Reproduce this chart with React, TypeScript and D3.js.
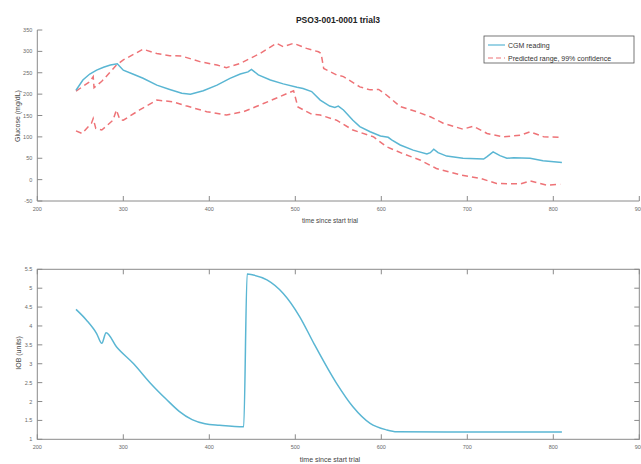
import React from "react";
import * as d3 from "d3";

const cgmT = [245, 253, 261, 269, 277, 285, 293, 300, 311, 323, 339, 354, 368, 378, 393, 409, 424, 436, 445, 449, 457, 471, 486, 502, 509, 519, 529, 540, 546, 550, 556, 567, 575, 587, 599, 608, 612, 622, 637, 653, 657, 661, 666, 676, 695, 719, 723, 730, 738, 746, 754, 773, 788, 810];
const cgmV = [209, 233, 247, 256, 263, 268, 271, 256, 247, 237, 221, 211, 202, 200, 208, 221, 237, 247, 252, 258, 245, 233, 224, 216, 213, 206, 186, 172, 169, 172, 163, 139, 124, 112, 102, 99, 93, 81, 69, 60, 63, 71, 63, 55, 50, 48, 54, 65, 56, 50, 51, 50, 44, 40];

const upT = [245, 253, 261, 265, 266, 275, 284, 292, 300, 312, 323, 339, 354, 368, 389, 409, 420, 436, 459, 478, 486, 498, 513, 527, 530, 533, 548, 556, 575, 587, 597, 606, 622, 641, 657, 672, 695, 707, 723, 742, 762, 773, 789, 808];
const upV = [207, 218, 229, 241, 215, 230, 250, 268, 280, 293, 305, 295, 290, 289, 276, 268, 262, 272, 295, 319, 311, 319, 307, 299, 295, 260, 245, 241, 217, 210, 211, 198, 171, 159, 147, 132, 118, 125, 108, 100, 104, 112, 100, 99];

const loT = [245, 252, 263, 265, 268, 275, 288, 292, 296, 300, 319, 339, 358, 374, 397, 420, 440, 463, 482, 498, 503, 519, 529, 548, 567, 591, 606, 626, 645, 664, 692, 715, 734, 762, 773, 792, 808];
const loV = [114, 108, 132, 143, 120, 116, 139, 163, 140, 139, 163, 186, 182, 172, 159, 151, 159, 178, 194, 208, 170, 153, 151, 139, 116, 100, 77, 60, 46, 26, 11, 3, -9, -10, -3, -13, -11];

const iobT = [245, 257, 269, 275, 280, 292, 312, 331, 350, 365, 380, 395, 412, 440, 444, 451, 467, 486, 505, 522, 548, 567, 587, 606, 618, 700, 810];
const iobV = [4.44, 4.16, 3.8, 3.54, 3.82, 3.45, 3.0, 2.5, 2.06, 1.74, 1.52, 1.41, 1.37, 1.33, 5.375, 5.35, 5.22, 4.86, 4.25, 3.52, 2.48, 1.86, 1.42, 1.25, 1.2, 1.19, 1.19];

const xTicks = [200, 300, 400, 500, 600, 700, 800, 900];
const gTicks = [-50, 0, 50, 100, 150, 200, 250, 300, 350];
const iTicks = [1, 1.5, 2, 2.5, 3, 3.5, 4, 4.5, 5, 5.5];

const titleText = "PSO3-001-0001 trial3";
const xLabel = "time since start trial";
const gLabel = "Glucose (mg/dL)";
const iLabel = "IOB (units)";
const legendLabels = ["CGM reading", "Predicted range, 99% confidence"];

const CYAN = "#5ab6d3";
const RED = "#ee7377";
const AX = "#8a8a8a";
const TXT = "#6a6a6a";
const FONT = "'Liberation Sans', Arial, sans-serif";

export default function App() {
  const L = 37.3, R = 639.3;
  const x = d3.scaleLinear().domain([200, 900]).range([L, R]);
  const yG = d3.scaleLinear().domain([-50, 350]).range([201, 30]);
  const yI = d3.scaleLinear().domain([1, 5.5]).range([439.3, 269.3]);

  const pts = (t: number[], v: number[]) => t.map((d, i) => [d, v[i]] as [number, number]);
  const lineG = d3.line<[number, number]>().x((d) => x(d[0])).y((d) => yG(d[1]));
  const lineI = d3.line<[number, number]>().x((d) => x(d[0])).y((d) => yI(d[1])).curve(d3.curveMonotoneX);

  const tl = 5;
  return (
    <svg width={641} height={464} style={{ position: "absolute", left: 0, top: 0, background: "#fff" }} fontFamily={FONT}>
      <rect x={0} y={0} width={641} height={464} fill="#fff" />
      <text x={338} y={23} textAnchor="middle" fontSize={8.5} fontWeight="bold" fill="#222">{titleText}</text>

      <line x1={L} x2={R} y1={yG(-50)} y2={yG(-50)} stroke={AX} strokeWidth={1} />
      <line x1={L} x2={L} y1={yG(-50)} y2={yG(350)} stroke={AX} strokeWidth={1} />
      {xTicks.map((t) => (
        <g key={"gx" + t}>
          <line x1={x(t)} x2={x(t)} y1={yG(-50)} y2={yG(-50) - tl} stroke={AX} />
          <text x={x(t)} y={yG(-50) + 10} textAnchor="middle" fontSize={5.5} fill={TXT}>{t}</text>
        </g>
      ))}
      {gTicks.map((v) => (
        <g key={"gy" + v}>
          <line x1={L} x2={L + tl} y1={yG(v)} y2={yG(v)} stroke={AX} />
          <text x={L - 5} y={yG(v) + 2} textAnchor="end" fontSize={5.5} fill={TXT}>{v}</text>
        </g>
      ))}
      <text x={330} y={223} textAnchor="middle" fontSize={6.5} fill="#444">{xLabel}</text>
      <text transform={`translate(20,${116}) rotate(-90)`} textAnchor="middle" fontSize={7} fill="#444">{gLabel}</text>

      <path d={lineG(pts(upT, upV)) || ""} fill="none" stroke={RED} strokeWidth={1.5} strokeDasharray="6 4" />
      <path d={lineG(pts(loT, loV)) || ""} fill="none" stroke={RED} strokeWidth={1.5} strokeDasharray="6 4" />
      <path d={lineG(pts(cgmT, cgmV)) || ""} fill="none" stroke={CYAN} strokeWidth={1.5} />

      <rect x={484} y={36} width={150} height={27} fill="#fff" stroke="#555" strokeWidth={0.8} />
      <line x1={488} x2={505} y1={45} y2={45} stroke={CYAN} strokeWidth={1.2} />
      <line x1={488} x2={505} y1={58} y2={58} stroke={RED} strokeWidth={1.2} strokeDasharray="5 3" />
      <text x={508} y={47.5} fontSize={7} fill="#333">{legendLabels[0]}</text>
      <text x={508} y={60.5} fontSize={7} fill="#333">{legendLabels[1]}</text>

      <rect x={L} y={yI(5.5)} width={R - L} height={yI(1) - yI(5.5)} fill="none" stroke={AX} strokeWidth={1} />
      {xTicks.map((t) => (
        <g key={"ix" + t}>
          <line x1={x(t)} x2={x(t)} y1={yI(1)} y2={yI(1) - tl} stroke={AX} />
          <line x1={x(t)} x2={x(t)} y1={yI(5.5)} y2={yI(5.5) + tl} stroke={AX} />
          <text x={x(t)} y={yI(1) + 9.5} textAnchor="middle" fontSize={5.5} fill={TXT}>{t}</text>
        </g>
      ))}
      {iTicks.map((v) => (
        <g key={"iy" + v}>
          <line x1={L} x2={L + tl} y1={yI(v)} y2={yI(v)} stroke={AX} />
          <line x1={R} x2={R - tl} y1={yI(v)} y2={yI(v)} stroke={AX} />
          <text x={L - 5} y={yI(v) + 2} textAnchor="end" fontSize={5.5} fill={TXT}>{v}</text>
        </g>
      ))}
      <text x={330} y={462} textAnchor="middle" fontSize={7} fill="#444">{xLabel}</text>
      <text transform={`translate(21,${353}) rotate(-90)`} textAnchor="middle" fontSize={7} fill="#444">{iLabel}</text>

      <path d={lineI(pts(iobT, iobV)) || ""} fill="none" stroke={CYAN} strokeWidth={1.5} />
    </svg>
  );
}
